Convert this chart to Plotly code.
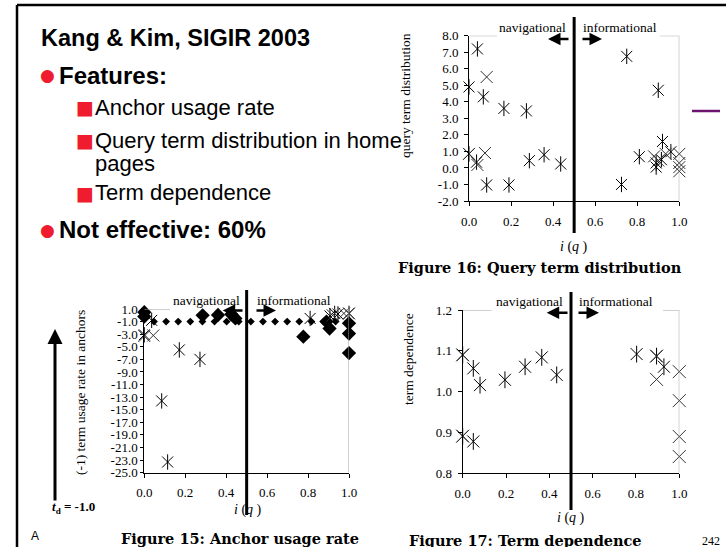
import numpy as np
import plotly.graph_objects as go

W, H = 726, 547

# ---------------- data ----------------
# Figure 16: query term distribution
f16_ast_x = [0.04, 0.0, 0.068, 0.166, 0.273, 0.0, 0.036, 0.287, 0.357, 0.436, 0.084, 0.19,
             0.75, 0.9, 0.725, 0.81, 0.92, 0.89, 0.89, 0.915, 0.96]
f16_ast_y = [7.2, 4.9, 4.3, 3.6, 3.45, 0.85, 0.35, 0.44, 0.8, 0.24, -1.03, -1.03,
             6.75, 4.7, -1.0, 0.68, 1.6, 0.3, 0.05, 0.5, 0.98]
f16_x_x = [0.084, 0.076, 0.04, 0.0, 0.88, 0.9, 0.935, 1.0, 1.0, 1.0, 1.0]
f16_x_y = [5.5, 0.9, 0.18, 0.85, 0.7, 0.45, 0.85, 0.85, 0.3, 0.05, -0.2]

# Figure 15: anchor usage rate
f15_dia_x = [0.0, 0.0, 0.285, 0.36, 0.425, 0.445, 0.777, 0.89, 0.905, 1.0, 1.0, 1.0]
f15_dia_y = [0.5, -0.2, 0.0, 0.05, 0.15, -0.5, -3.4, -1.0, -2.1, -1.27, -2.9, -6.0]
f15_ast_x = [0.036, 0.0, 0.171, 0.272, 0.085, 0.114, 0.81, 0.907, 0.93, 0.946, 1.0]
f15_ast_y = [-0.8, -3.1, -5.5, -7.0, -13.6, -23.3, -0.5, -0.1, 0.3, 0.2, 0.3]
f15_x_x = [0.044, 0.0, 0.92, 0.975, 1.0]
f15_x_y = [-3.2, -3.3, 0.0, 0.3, 0.3]
TD = -1.0

# Figure 17: term dependence
f17_ast_x = [0.0, 0.049, 0.08, 0.195, 0.288, 0.365, 0.434, 0.0, 0.049, 0.803, 0.895, 0.929]
f17_ast_y = [1.09, 1.057, 1.016, 1.029, 1.061, 1.084, 1.041, 0.891, 0.878, 1.092, 1.087, 1.061]
f17_x_x = [0.0, 0.0, 0.895, 0.895, 1.0, 1.0, 1.0, 1.0]
f17_x_y = [1.09, 0.891, 1.087, 1.030, 1.049, 0.978, 0.890, 0.841]

x_ticks = [0.0, 0.2, 0.4, 0.6, 0.8, 1.0]
f16_yticks = list(range(-2, 9))
f15_yticks = list(range(1, -26, -2))
f17_yticks = [0.8, 0.9, 1.0, 1.1, 1.2]

SERIF = "Liberation Serif"
CAPSERIF = "DejaVu Serif"
SANS = "Liberation Sans"
RED = "#ee1c2e"


def PX(x):
    return x / W


def PY(y):
    return 1 - y / H


fig = go.Figure()


def add_points(xs, ys, ax, kind, size=12):
    xa, ya = ax
    if kind == "ast":
        for sym in ("x-thin", "line-ns"):
            fig.add_trace(go.Scatter(x=xs, y=ys, xaxis=xa, yaxis=ya, mode="markers",
                                     cliponaxis=False, showlegend=False, hoverinfo="skip",
                                     marker=dict(symbol=sym, size=size - 1,
                                                 line=dict(width=1, color="black"))))
    elif kind == "x":
        fig.add_trace(go.Scatter(x=xs, y=ys, xaxis=xa, yaxis=ya, mode="markers",
                                 cliponaxis=False, showlegend=False, hoverinfo="skip",
                                 marker=dict(symbol="x-thin", size=size,
                                             line=dict(width=1, color="#333333"))))
    else:
        fig.add_trace(go.Scatter(x=xs, y=ys, xaxis=xa, yaxis=ya, mode="markers",
                                 cliponaxis=False, showlegend=False, hoverinfo="skip",
                                 marker=dict(symbol="diamond", size=11, color="black",
                                             line=dict(width=0))))


A16, A15, A17 = ("x", "y"), ("x2", "y2"), ("x3", "y3")

add_points(f16_ast_x, f16_ast_y, A16, "ast")
add_points(f16_x_x, f16_x_y, A16, "x")

# threshold dotted line t_d = -1.0
dots_x = np.linspace(-0.485, 1.112, 28)
fig.add_trace(go.Scatter(x=dots_x, y=[TD] * len(dots_x), xaxis="x2", yaxis="y2", mode="markers",
                         cliponaxis=False, showlegend=False, hoverinfo="skip",
                         marker=dict(symbol="diamond", size=6, color="black")))
add_points(f15_dia_x, f15_dia_y, A15, "dia")
add_points(f15_ast_x, f15_ast_y, A15, "ast")
add_points(f15_x_x, f15_x_y, A15, "x")

add_points(f17_ast_x, f17_ast_y, A17, "ast", size=13)
add_points(f17_x_x, f17_x_y, A17, "x", size=13)


def xaxis_style(dom, anchor):
    return dict(domain=dom, anchor=anchor, range=[0, 1], tickvals=x_ticks,
                ticktext=[f"{v:.1f}" for v in x_ticks], showline=True, linecolor="black",
                linewidth=1, ticks="outside", ticklen=4, tickcolor="black", showgrid=False,
                zeroline=False, tickfont=dict(family=SERIF, size=13, color="black"),
                ticklabelstandoff=4, automargin=False, fixedrange=True)


def yaxis_style(dom, anchor, rng, vals, ticklen=4, standoff=3):
    return dict(domain=dom, anchor=anchor, range=rng, tickvals=vals,
                ticktext=[f"{v:.1f}" for v in vals], showline=True, linecolor="black",
                linewidth=1, ticks="outside", ticklen=ticklen, tickcolor="black",
                showgrid=False, zeroline=False, automargin=False, fixedrange=True,
                tickfont=dict(family=SERIF, size=13, color="black"), ticklabelstandoff=standoff)


fig.update_layout(
    template="none",
    width=W, height=H, margin=dict(l=0, r=0, t=0, b=0, pad=0), autosize=False,
    paper_bgcolor="white", plot_bgcolor="rgba(0,0,0,0)", showlegend=False,
    xaxis=xaxis_style([PX(469), PX(679.3)], "y"),
    yaxis=yaxis_style([PY(201), PY(35.7)], "x", [-2, 8], f16_yticks),
    xaxis2=xaxis_style([PX(144.3), PX(349)], "y2"),
    yaxis2=yaxis_style([PY(472.7), PY(309)], "x2", [-25, 1], f15_yticks, ticklen=3, standoff=0),
    xaxis3=xaxis_style([PX(462.7), PX(679.3)], "y3"),
    yaxis3=yaxis_style([PY(473.3), PY(310)], "x3", [0.8, 1.2], f17_yticks),
)

shapes = []
annots = []

# slide frame
shapes.append(dict(type="line", xref="paper", yref="paper", x0=PX(17), x1=1.0, y0=PY(5), y1=PY(5),
                   line=dict(color="black", width=2.5)))
shapes.append(dict(type="line", xref="paper", yref="paper", x0=PX(17), x1=PX(17), y0=PY(5), y1=0,
                   line=dict(color="black", width=2.5)))
shapes.append(dict(type="line", xref="paper", yref="paper", x0=PX(692), x1=PX(720), y0=PY(111), y1=PY(111),
                   line=dict(color="#6e1470", width=2.5)))

figs = [
    dict(ax=A16, ymin=-2, ymax=8, a=0.133, b=0.908, vt=17, vb=233, ly=27, nav=568, inf=581,
         ary=39, lh=548, lt=570, rt=581, rh=602, iq=(574, 247),
         cap="Figure 16: Query term distribution", capxy=(540, 267),
         yt="query term distribution", ytxy=(405, 96)),
    dict(ax=A15, ymin=-25, ymax=1, a=0.126, b=0.923, vt=290, vb=515, ly=300, nav=241.7, inf=255,
         ary=310.5, lh=222.7, lt=244, rt=255, rh=276, iq=(248, 510),
         cap="Figure 15: Anchor usage rate", capxy=(240, 538),
         yt="(-1) term usage rate in anchors", ytxy=(80, 393)),
    dict(ax=A17, ymin=0.8, ymax=1.2, a=0.134, b=0.925, vt=292, vb=510, ly=301.7, nav=565, inf=577.3,
         ary=312.7, lh=546.7, lt=569, rt=577, rh=599, iq=(571, 518),
         cap="Figure 17: Term dependence", capxy=(525, 540),
         yt="term dependence", ytxy=(408, 359)),
]

for f in figs:
    xa, ya = f["ax"]
    gray = dict(color="#a0a0a0", width=1)
    shapes.append(dict(type="line", xref=xa, yref=ya, x0=1, x1=1, y0=f["ymin"], y1=f["ymax"], line=gray))
    shapes.append(dict(type="line", xref=xa, yref=ya, x0=0, x1=f["a"], y0=f["ymax"], y1=f["ymax"], line=gray))
    shapes.append(dict(type="line", xref=xa, yref=ya, x0=f["b"], x1=1, y0=f["ymax"], y1=f["ymax"], line=gray))
    shapes.append(dict(type="line", xref=xa, yref="paper", x0=0.5, x1=0.5, y0=PY(f["vb"]), y1=PY(f["vt"]),
                       line=dict(color="black", width=3)))
    annots.append(dict(x=PX(f["nav"]), y=PY(f["ly"]), xref="paper", yref="paper", text="navigational",
                       showarrow=False, xanchor="right", yanchor="middle",
                       font=dict(family=SERIF, size=13.5, color="black")))
    annots.append(dict(x=PX(f["inf"]), y=PY(f["ly"]), xref="paper", yref="paper", text="informational",
                       showarrow=False, xanchor="left", yanchor="middle",
                       font=dict(family=SERIF, size=13.5, color="black")))
    annots.append(dict(x=PX(f["lh"]), y=PY(f["ary"]), xref="paper", yref="paper", text="",
                       showarrow=True, ax=f["lt"] - f["lh"], ay=0, arrowhead=2, arrowsize=1,
                       arrowwidth=2.5, arrowcolor="black", standoff=0, startstandoff=0))
    annots.append(dict(x=PX(f["rh"]), y=PY(f["ary"]), xref="paper", yref="paper", text="",
                       showarrow=True, ax=f["rt"] - f["rh"], ay=0, arrowhead=2, arrowsize=1,
                       arrowwidth=2.5, arrowcolor="black", standoff=0, startstandoff=0))
    annots.append(dict(x=PX(f["iq"][0]), y=PY(f["iq"][1]), xref="paper", yref="paper",
                       text="<i>i</i> (<i>q</i> )", showarrow=False, xanchor="center", yanchor="middle",
                       font=dict(family=SERIF, size=14, color="black")))
    annots.append(dict(x=PX(f["capxy"][0]), y=PY(f["capxy"][1]), xref="paper", yref="paper",
                       text="<b>" + f["cap"] + "</b>", showarrow=False, xanchor="center", yanchor="middle",
                       font=dict(family=CAPSERIF, size=14.5, color="black")))
    annots.append(dict(x=PX(f["ytxy"][0]), y=PY(f["ytxy"][1]), xref="paper", yref="paper",
                       text=f["yt"], showarrow=False, textangle=-90, xanchor="center", yanchor="middle",
                       font=dict(family=SERIF, size=13.5, color="black")))

# t_d arrow and label
annots.append(dict(x=PX(55), y=PY(329), xref="paper", yref="paper", text="", showarrow=True,
                   ax=0, ay=173, arrowhead=2, arrowsize=1, arrowwidth=3, arrowcolor="black",
                   standoff=0, startstandoff=0))
annots.append(dict(x=PX(50), y=PY(507), xref="paper", yref="paper",
                   text="<b><i>t</i><sub>d</sub> = -1.0</b>", showarrow=False, xanchor="left",
                   yanchor="middle", font=dict(family=SERIF, size=13, color="black")))

# slide text
annots.append(dict(x=PX(39), y=PY(38), xref="paper", yref="paper", text="<b>Kang &amp; Kim, SIGIR 2003</b>",
                   showarrow=False, xanchor="left", yanchor="middle",
                   font=dict(family=SANS, size=23.5, color="black")))
bullets = [("●", 38, 75, "<b>Features:</b>", 56.7, 24),
           ("■", 74, 107, "Anchor usage rate", 92.7, 22),
           ("■", 74, 140, "Query term distribution in home", 92.7, 22),
           (None, 74, 163, "pages", 92.7, 22),
           ("■", 74, 193, "Term dependence", 92.7, 22),
           ("●", 38, 230, "<b>Not effective: 60%</b>", 56.7, 24)]
for sym, bx, by, txt, tx, fs in bullets:
    if sym:
        annots.append(dict(x=PX(bx), y=PY(by), xref="paper", yref="paper", text=sym, showarrow=False,
                           xanchor="left", yanchor="middle",
                           font=dict(family="DejaVu Sans", size=17 if sym == "●" else 19, color=RED)))
    annots.append(dict(x=PX(tx), y=PY(by), xref="paper", yref="paper", text=txt, showarrow=False,
                       xanchor="left", yanchor="middle", font=dict(family=SANS, size=fs, color="black")))

annots.append(dict(x=PX(711), y=PY(541), xref="paper", yref="paper", text="242", showarrow=False,
                   xanchor="center", yanchor="middle", font=dict(family=SERIF, size=12, color="black")))
annots.append(dict(x=PX(29), y=PY(536), xref="paper", yref="paper", text="A", showarrow=False,
                   xanchor="left", yanchor="middle", font=dict(family=SANS, size=12, color="black")))

fig.update_layout(shapes=shapes, annotations=annots)
fig.write_html("out.html", config={"displayModeBar": False, "staticPlot": True},
               post_script="document.body.style.margin='0';document.body.style.overflow='hidden';")
